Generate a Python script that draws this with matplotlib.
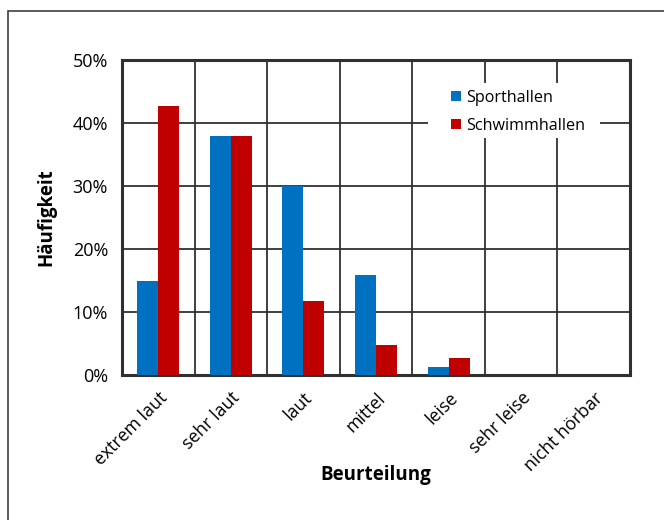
import numpy as np
import matplotlib.pyplot as plt
from matplotlib.patches import Rectangle
from matplotlib.ticker import PercentFormatter

plt.rcParams['font.family'] = ['Open Sans', 'DejaVu Sans']

kategorien = ['extrem laut', 'sehr laut', 'laut', 'mittel', 'leise', 'sehr leise', 'nicht hörbar']
sporthallen = [15.0, 38.0, 30.0, 15.9, 1.2, 0.0, 0.0]
schwimmhallen = [42.7, 38.0, 11.7, 4.8, 2.7, 0.0, 0.0]

fig = plt.figure(figsize=(6.64, 5.2), dpi=100)
ax = fig.add_axes([0.1837, 0.2788, 0.7651, 0.6058])

# Rahmen um die Grafik
fig.patches.append(Rectangle((8/664, -0.1), 1.2, 1.1 - 11/520, transform=fig.transFigure,
                             fill=False, edgecolor='#404040', linewidth=1.2))

x = np.arange(len(kategorien))
b = 0.29
ax.bar(x - b/2, sporthallen, b, color='#0070c0', label='Sporthallen', zorder=3)
ax.bar(x + b/2, schwimmhallen, b, color='#c00000', label='Schwimmhallen', zorder=3)

ax.set_xlim(-0.5, len(kategorien) - 0.5)
ax.set_ylim(0, 50)
ax.set_yticks(np.arange(0, 51, 10))
ax.yaxis.set_major_formatter(PercentFormatter(decimals=0))
ax.set_xticks(x)
ax.set_xticklabels(kategorien, rotation=45, ha='right', rotation_mode='anchor')
ax.set_xticks(np.arange(-0.5, len(kategorien), 1), minor=True)
ax.tick_params(axis='both', which='both', length=0)
ax.tick_params(axis='y', labelsize=13, pad=10)
ax.tick_params(axis='x', labelsize=12.8, pad=10)

ax.grid(axis='y', which='major', color='#303030', linewidth=1.3)
ax.grid(axis='x', which='minor', color='#303030', linewidth=1.3)
ax.set_axisbelow(True)
for s in ax.spines.values():
    s.set_linewidth(2.2)
    s.set_color('#303030')

ax.set_ylabel('Häufigkeit', fontsize=13.5, fontweight='bold')
ax.set_xlabel('Beurteilung', fontsize=13.5, fontweight='bold')
ax.yaxis.set_label_coords(-0.13, 0.5)
ax.xaxis.set_label_coords(0.5, -0.285)

# weisser Hintergrund der Legende
ax.add_patch(Rectangle((0.602, 0.752), 0.339, 0.175, transform=ax.transAxes,
                       facecolor='white', edgecolor='none', zorder=2))
leg = ax.legend(loc='upper left', bbox_to_anchor=(0.648, 0.905), frameon=False, fontsize=11.6,
                handlelength=0.6, handleheight=0.6, handletextpad=0.3, labelspacing=0.75,
                borderpad=0, borderaxespad=0)
leg.set_zorder(5)

fig.savefig('out.png', dpi=100)
